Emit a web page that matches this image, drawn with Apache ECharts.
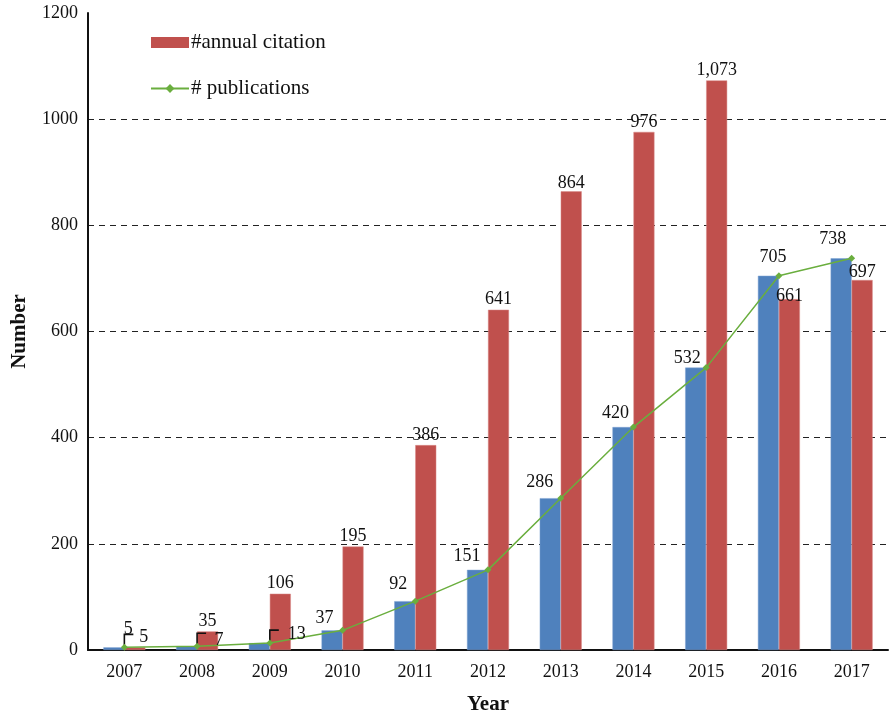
<!DOCTYPE html>
<html>
<head>
<meta charset="utf-8">
<script src="https://cdn.jsdelivr.net/npm/echarts@6/dist/echarts.min.js"></script>
<style>
  html, body { margin: 0; padding: 0; background: #fff; }
  #chart { width: 889px; height: 717px; }
</style>
</head>
<body>
<div id="chart"></div>
<script>
// Years on the x axis
var years = ['2007', '2008', '2009', '2010', '2011', '2012', '2013', '2014', '2015', '2016', '2017'];
// Number of publications per year (blue bars and green line)
var publications = [5, 7, 13, 37, 92, 151, 286, 420, 532, 705, 738];
// Annual citations per year (red bars)
var citations = [5, 35, 106, 195, 386, 641, 864, 976, 1073, 661, 697];
// Y axis ticks
var yTicks = [0, 200, 400, 600, 800, 1000, 1200];

// Label placement tweaks (pixel offsets) for the publication labels
var pubLabelOffsets = [[4, -5], [22, 7], [27, 5], [-18, 1], [-17, -3], [-21, 0],
                       [-21, -2], [-18, 0], [-19, 4], [-6, -5], [-19, -5]];
// Label placement tweaks for the citation labels
var citLabelOffsets = [[9, 0], [0, 0], [0, 0], [0, 0], [0, 0], [0, 0],
                       [0, 2], [0, 0], [0, 0], [0, 7], [0, 2]];
// Years whose publication labels are pulled aside with a leader line
var leaderIdx = [0, 1, 2];

var FONT = '"Liberation Serif", "Times New Roman", serif';
var BLUE = '#4f81bd', RED = '#c0504d', GREEN = '#6aae3e';

function fmt(v) {
  return String(v).replace(/\B(?=(\d{3})+(?!\d))/g, ',');
}

var chart = echarts.init(document.getElementById('chart'));

var lineData = publications.map(function (v, i) {
  return { value: v, label: { offset: pubLabelOffsets[i] } };
});
var citData = citations.map(function (v, i) {
  return { value: v, label: { offset: citLabelOffsets[i] } };
});

chart.setOption({
  animation: false,
  backgroundColor: '#fff',
  textStyle: { fontFamily: FONT },
  grid: { left: 88, right: 1, top: 13, bottom: 67, outerBoundsMode: 'none', containLabel: false },
  legend: {
    orient: 'vertical',
    left: 150,
    top: 30,
    padding: 0,
    itemWidth: 38,
    itemHeight: 11,
    itemGap: 21,
    data: [
      { name: '#annual citation', icon: 'rect', itemStyle: { color: RED, borderWidth: 0 } },
      { name: '# publications' }
    ],
    textStyle: { fontFamily: FONT, fontSize: 21, lineHeight: 25, color: '#111', padding: [0, 0, 0, -3] }
  },
  xAxis: {
    type: 'category',
    data: years,
    name: 'Year',
    nameLocation: 'middle',
    nameGap: 44,
    nameTextStyle: { fontFamily: FONT, fontSize: 21, fontWeight: 'bold', color: '#111' },
    axisLine: { lineStyle: { color: '#111', width: 2 } },
    axisTick: { show: false },
    axisLabel: { fontFamily: FONT, fontSize: 18, color: '#111', margin: 13 }
  },
  yAxis: {
    type: 'value',
    min: yTicks[0],
    max: yTicks[yTicks.length - 1],
    interval: yTicks[1] - yTicks[0],
    name: 'Number',
    nameLocation: 'middle',
    nameGap: 58,
    nameTextStyle: { fontFamily: FONT, fontSize: 21, fontWeight: 'bold', color: '#111' },
    axisLine: { show: true, lineStyle: { color: '#111', width: 2 } },
    axisTick: { show: false },
    axisLabel: {
      fontFamily: FONT, fontSize: 18, color: '#111', margin: 10,
      formatter: function (v) { return String(v); }
    },
    splitLine: {
      show: true,
      showMaxLine: false,
      lineStyle: { color: '#222', type: [6, 5], width: 1 }
    }
  },
  series: [
    {
      name: 'publications',
      type: 'bar',
      data: publications,
      barWidth: 21,
      barGap: '0%',
      itemStyle: { color: BLUE, borderColor: '#7fa3d3', borderWidth: 0.5 },
      z: 2
    },
    {
      name: '#annual citation',
      type: 'bar',
      data: citData,
      barWidth: 21,
      barGap: '0%',
      itemStyle: { color: RED, borderColor: '#d88a88', borderWidth: 0.5 },
      label: {
        show: true,
        position: 'top',
        distance: 1,
        fontFamily: FONT,
        fontSize: 18,
        color: '#111',
        formatter: function (p) { return fmt(p.value); }
      },
      z: 2
    },
    {
      name: '# publications',
      type: 'line',
      data: lineData,
      symbol: 'diamond',
      symbolSize: 7,
      lineStyle: { color: GREEN, width: 1.5 },
      itemStyle: { color: GREEN },
      label: {
        show: true,
        position: 'top',
        distance: 1,
        fontFamily: FONT,
        fontSize: 18,
        color: '#111'
      },
      z: 4
    },
    {
      // leader lines for the labels that were pulled aside
      name: 'leaders',
      type: 'custom',
      data: leaderIdx.map(function (i) { return [i, publications[i]]; }),
      renderItem: function (params, api) {
        var p = api.coord([api.value(0), api.value(1)]);
        return {
          type: 'polyline',
          shape: { points: [[p[0], p[1]], [p[0], p[1] - 13], [p[0] + 9, p[1] - 13]] },
          style: { stroke: '#111', lineWidth: 1.6, fill: null }
        };
      },
      silent: true,
      z: 3
    }
  ]
});
</script>
</body>
</html>
